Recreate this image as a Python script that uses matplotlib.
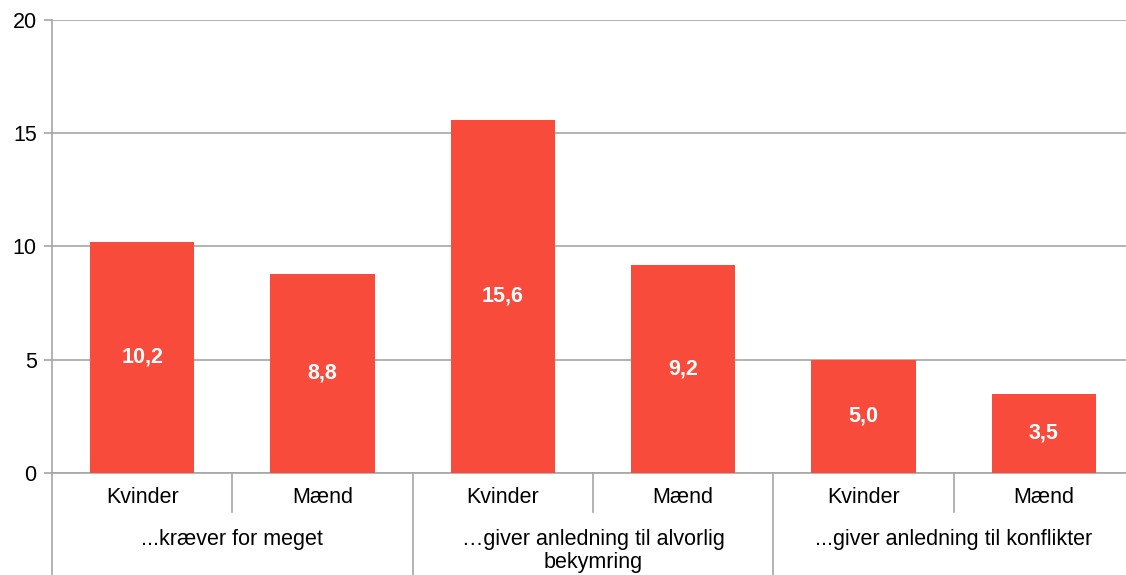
import matplotlib
matplotlib.use("Agg")
from matplotlib import pyplot as plt
from matplotlib import transforms

# data
sub_labels = ["Kvinder", "Mænd", "Kvinder", "Mænd", "Kvinder", "Mænd"]
values = [10.2, 8.8, 15.6, 9.2, 5.0, 3.5]
groups = ["...kræver for meget", "…giver anledning til alvorlig\nbekymring",
          "...giver anledning til konflikter"]
y_ticks = [0, 5, 10, 15, 20]

bar_color = "#F84B3C"
grid_color = "#A6A6A6"
fs = 15.5

plt.rcParams["font.family"] = ["Liberation Sans", "DejaVu Sans"]

fig = plt.figure(figsize=(11.26, 5.75), dpi=100)
ax = fig.add_axes([52 / 1126, 102 / 575, (1134 - 52) / 1126, 453 / 575])

x = list(range(len(values)))
ax.bar(x, values, width=0.58, color=bar_color, zorder=3)

for xi, v in zip(x, values):
    ax.text(xi, v / 2, ("%.1f" % v).replace(".", ","), ha="center", va="center",
            color="white", fontsize=fs, fontweight="bold", zorder=4)

ax.set_xlim(-0.5, len(values) - 0.5)
ax.set_ylim(0, 20)
ax.set_yticks(y_ticks)
ax.set_yticklabels([str(t) for t in y_ticks], fontsize=fs)
ax.tick_params(axis="y", length=6, width=1.2, color=grid_color, pad=5)
ax.set_xticks([])

ax.grid(axis="y", color=grid_color, linewidth=1.2, zorder=0)
for side in ["top", "right"]:
    ax.spines[side].set_visible(False)
ax.spines["left"].set_color(grid_color)
ax.spines["left"].set_linewidth(1.2)
ax.spines["bottom"].set_color(grid_color)
ax.spines["bottom"].set_linewidth(1.2)

trans = transforms.blended_transform_factory(ax.transData, ax.transAxes)

# category labels
for xi, lab in zip(x, sub_labels):
    ax.text(xi, -0.055, lab, transform=trans, ha="center", va="center", fontsize=fs)

# separators between sub categories and groups
for i in range(len(values) + 1):
    xpos = i - 0.5
    if i % 2 == 0:
        bottom = -0.225
    else:
        bottom = -0.086
    ax.plot([xpos, xpos], [0, bottom], transform=trans, color=grid_color,
            linewidth=1.2, clip_on=False)

# group labels
for gi, g in enumerate(groups):
    ax.text(gi * 2 + 0.5, -0.124, g, transform=trans, ha="center", va="top",
            fontsize=fs, linespacing=1.12)

fig.savefig("out.png", dpi=100)
